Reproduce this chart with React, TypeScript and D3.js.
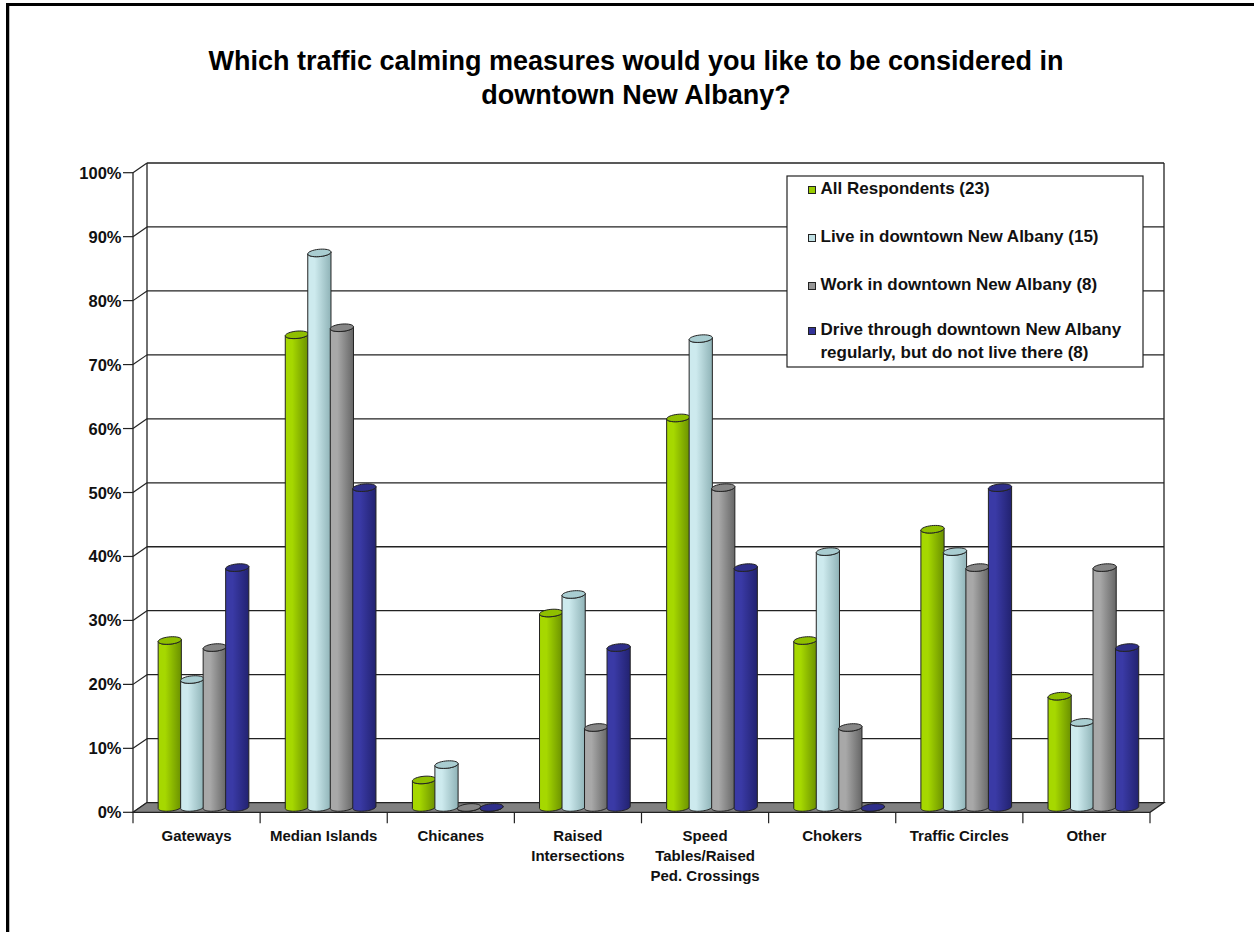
import React from "react";
import * as d3 from "d3";

const categories = [
  "Gateways",
  "Median Islands",
  "Chicanes",
  "Raised\nIntersections",
  "Speed\nTables/Raised\nPed. Crossings",
  "Chokers",
  "Traffic Circles",
  "Other",
];
const seriesNames = [
  "All Respondents (23)",
  "Live in downtown New Albany (15)",
  "Work in downtown New Albany (8)",
  "Drive through downtown New Albany\nregularly, but do not live there (8)",
];
const allRespondents = [26.1, 73.9, 4.3, 30.4, 60.9, 26.1, 43.5, 17.4];
const liveDowntown = [20.0, 86.7, 6.7, 33.3, 73.3, 40.0, 40.0, 13.3];
const workDowntown = [25.0, 75.0, 0, 12.5, 50.0, 12.5, 37.5, 37.5];
const driveThrough = [37.5, 50.0, 0, 25.0, 37.5, 0, 50.0, 25.0];
const yTicks = [0, 10, 20, 30, 40, 50, 60, 70, 80, 90, 100];
const titleLines = [
  "Which traffic calming measures would you like to be considered in",
  "downtown New Albany?",
];

const seriesValues = [allRespondents, liveDowntown, workDowntown, driveThrough];
const palette = [
  { light: "#a6d800", dark: "#6a9000", top: "#8fbf00", swatch: "#99cc00" },
  { light: "#cdeaee", dark: "#8fb3b7", top: "#a9cdd1", swatch: "#c0e0e4" },
  { light: "#a8a8a8", dark: "#666666", top: "#868686", swatch: "#969696" },
  { light: "#3a3aa6", dark: "#222270", top: "#2e2e8a", swatch: "#333399" },
];

const W = 1254;
const H = 932;
const DX = 14;
const DY = -9.7;
const FONT = "'Liberation Sans', Arial, sans-serif";

export default function App() {
  const x = d3.scaleBand<string>().domain(categories).range([133, 1150]);
  const s = d3.scaleBand<string>().domain(seriesNames).range([18.5, 108.5]);
  const y = d3.scaleLinear().domain([0, 100]).range([812.3, 172.7]);

  const R = 11.2;
  const A = 3.0;
  const B = -3.8;
  const th0 = Math.atan(A / R);
  const pt = (cx: number, cy: number, t: number): [number, number] => [
    cx + R * Math.cos(t) + A * Math.sin(t),
    cy + B * Math.sin(t),
  ];
  const arcPts = (cx: number, cy: number, t1: number, t2: number, n = 24) =>
    d3.range(n + 1).map((i) => pt(cx, cy, t1 + ((t2 - t1) * i) / n));

  const line = d3.line();

  const x0 = x(categories[0])!;
  const xEnd = x0 + x.step() * categories.length;

  const bars: React.ReactNode[] = [];
  categories.forEach((cat, ci) => {
    seriesNames.forEach((sn, si) => {
      const v = seriesValues[si][ci];
      const cx = x(cat)! + s(sn)! + s.bandwidth() / 2 + DX / 2;
      const baseY = y(0) + DY / 2;
      const topY = y(v) + DY / 2;
      const frontTop = arcPts(cx, topY, th0 + Math.PI, th0 + 2 * Math.PI);
      const frontBot = arcPts(cx, baseY, th0 + 2 * Math.PI, th0 + Math.PI);
      const bodyPath = line([...frontTop, ...frontBot]) + "Z";
      const topPath = line(arcPts(cx, topY, 0, 2 * Math.PI, 36)) + "Z";
      bars.push(
        <g key={`${ci}-${si}`}>
          <path d={bodyPath} fill={`url(#grad${si})`} stroke="#222" strokeWidth={1} />
          <path d={topPath} fill={palette[si].top} stroke="#222" strokeWidth={1} />
        </g>
      );
    });
  });

  return (
    <svg
      width={W}
      height={H}
      style={{ position: "absolute", left: 0, top: 0, background: "#fff" }}
      fontFamily={FONT}
    >
      <defs>
        {palette.map((p, i) => (
          <linearGradient key={i} id={`grad${i}`} x1="0" x2="1" y1="0" y2="0">
            <stop offset="0" stopColor={p.light} />
            <stop offset="0.3" stopColor={p.light} />
            <stop offset="1" stopColor={p.dark} />
          </linearGradient>
        ))}
      </defs>
      <rect width={W} height={H} fill="#fff" />
      {/* outer border */}
      <path d={`M7.5 ${H} V4.5 H${W}`} fill="none" stroke="#000" strokeWidth={3} />
      <line x1={9.5} x2={9.5} y1={6} y2={H} stroke="#bbb" strokeWidth={1} />

      {/* title */}
      {titleLines.map((t, i) => (
        <text
          key={i}
          x={636}
          y={69.5 + i * 34}
          textAnchor="middle"
          fontSize={27}
          fontWeight="bold"
          fill="#000"
        >
          {t}
        </text>
      ))}

      {/* back wall gridlines */}
      {yTicks.map((t) => (
        <line
          key={`g${t}`}
          x1={x0 + DX}
          x2={xEnd + DX}
          y1={y(t) + DY}
          y2={y(t) + DY}
          stroke="#222"
          strokeWidth={1.3}
        />
      ))}
      <line x1={x0 + DX} x2={x0 + DX} y1={y(100) + DY} y2={y(0) + DY} stroke="#222" strokeWidth={1.3} />
      <line x1={xEnd + DX} x2={xEnd + DX} y1={y(100) + DY} y2={y(0) + DY} stroke="#222" strokeWidth={1.3} />

      {/* side wall diagonals + axis ticks */}
      {yTicks.map((t) => (
        <g key={`t${t}`}>
          <line x1={x0} x2={x0 + DX} y1={y(t)} y2={y(t) + DY} stroke="#222" strokeWidth={1.2} />
          <line x1={x0 - 10} x2={x0} y1={y(t)} y2={y(t)} stroke="#222" strokeWidth={1.2} />
          <text
            x={121.5}
            y={y(t) + 6}
            textAnchor="end"
            fontSize={16.5}
            fontWeight="bold"
            fill="#111"
          >
            {`${t}%`}
          </text>
        </g>
      ))}
      <line x1={x0} x2={x0} y1={y(100)} y2={y(0)} stroke="#222" strokeWidth={1.3} />

      {/* floor */}
      <path
        d={`M${x0} ${y(0)} L${xEnd} ${y(0)} L${xEnd + DX} ${y(0) + DY} L${x0 + DX} ${y(0) + DY} Z`}
        fill="#808080"
        stroke="#222"
        strokeWidth={1.2}
      />

      {/* category ticks */}
      {d3.range(categories.length + 1).map((i) => (
        <line
          key={`ct${i}`}
          x1={x0 + i * x.step()}
          x2={x0 + i * x.step()}
          y1={y(0)}
          y2={y(0) + 11}
          stroke="#222"
          strokeWidth={1.2}
        />
      ))}

      {bars}

      {/* category labels */}
      {categories.map((c) => (
        <text
          key={c}
          x={x(c)! + x.bandwidth() / 2}
          y={840.5}
          textAnchor="middle"
          fontSize={15}
          fontWeight="bold"
          fill="#111"
        >
          {c.split("\n").map((l, i) => (
            <tspan key={i} x={x(c)! + x.bandwidth() / 2} dy={i === 0 ? 0 : 20}>
              {l}
            </tspan>
          ))}
        </text>
      ))}

      {/* legend */}
      <rect x={787} y={176} width={356} height={191} fill="#fff" stroke="#222" strokeWidth={1.2} />
      {seriesNames.map((sn, i) => {
        const by = [194, 242, 290, 335][i];
        return (
          <g key={sn}>
            <rect
              x={808.5}
              y={by - 7.5}
              width={7}
              height={7}
              fill={palette[i].swatch}
              stroke="#222"
              strokeWidth={1}
            />
            <text x={820.5} y={by} fontSize={17} fontWeight="bold" fill="#111">
              {sn.split("\n").map((l, j) => (
                <tspan key={j} x={820.5} dy={j === 0 ? 0 : 23}>
                  {l}
                </tspan>
              ))}
            </text>
          </g>
        );
      })}
    </svg>
  );
}
